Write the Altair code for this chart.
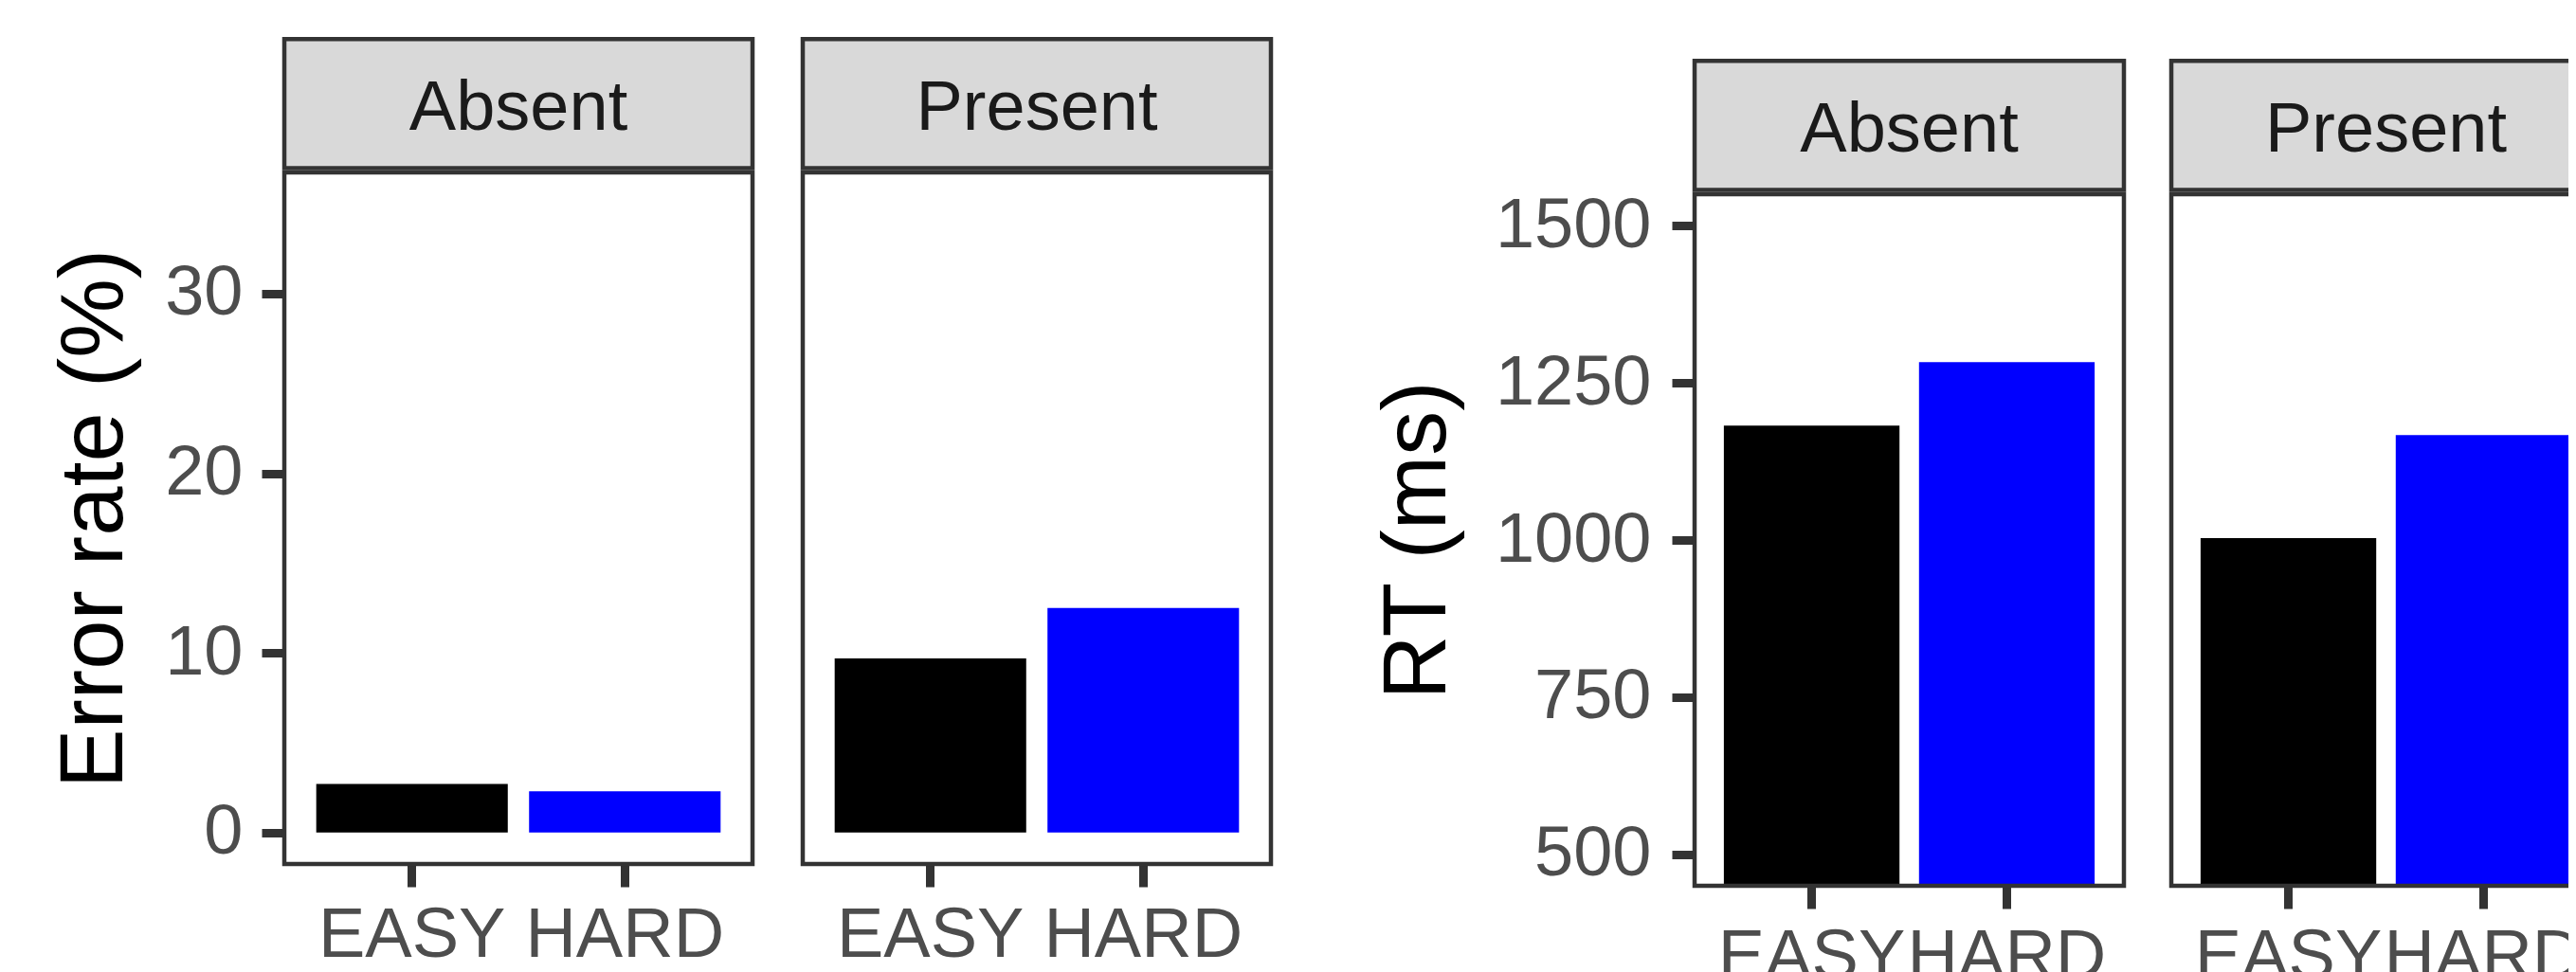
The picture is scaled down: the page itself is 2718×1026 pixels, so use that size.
import altair as alt
import pandas as pd

# ---- data ----
conditions = ["EASY", "HARD"]
panels = ["Absent", "Present"]
error_absent = [2.7, 2.3]
error_present = [9.7, 12.5]
rt_absent = [1182, 1283]
rt_present = [1003, 1167]
error_ticks = [0, 10, 20, 30]
rt_ticks = [500, 750, 1000, 1250, 1500]
error_domain = [-1.75, 36.75]
rt_domain = [450, 1550]

FONT = "Liberation Sans"
TICK_FS = 74
TITLE_FS = 94
STRIP_H = 143
BORDER = 4.5
COLORS = ["#000000", "#0000FF"]
GREY20 = "#333333"


def panel(values, label, width, height, domain, ticks, y_title=None,
          title_x=0, label_pad=20, offset=0):
    df = pd.DataFrame({"condition": conditions, "value": values})
    lab = pd.DataFrame({"panel": [label]})
    if y_title is not None:
        yaxis = alt.Axis(values=ticks, format="d", title=y_title, grid=False, domain=False,
                         tickSize=24, tickWidth=9, tickColor=GREY20,
                         labelFontSize=TICK_FS, labelColor="#4D4D4D",
                         labelPadding=label_pad, labelFont=FONT, labelLimit=0,
                         titleFont=FONT, titleFontSize=TITLE_FS,
                         titleFontWeight="normal", titleColor="#000000",
                         titleX=title_x, titleY=offset + height / 2,
                         titleBaseline="middle", titleLimit=0)
    else:
        yaxis = None
    bars = alt.Chart(df).mark_bar(clip=True).encode(
        x=alt.X("condition:N", sort=conditions,
                scale=alt.Scale(domain=conditions, paddingInner=0.1, paddingOuter=0.15),
                axis=alt.Axis(title=None, labelAngle=0, domain=False, grid=False,
                              tickSize=24, tickWidth=9, tickColor=GREY20,
                              labelFontSize=TICK_FS, labelColor="#4D4D4D",
                              labelPadding=15, labelFont=FONT, labelOverlap=False,
                              labelLimit=0)),
        y=alt.Y("value:Q",
                scale=alt.Scale(domain=domain, nice=False, zero=False,
                                range=[offset + height, offset]),
                axis=yaxis),
        color=alt.Color("condition:N", scale=alt.Scale(domain=conditions, range=COLORS), legend=None),
    )
    border = alt.Chart(lab).mark_rect(
        fillOpacity=0, stroke=GREY20, strokeWidth=BORDER, clip=False
    ).encode(x=alt.value(0), x2=alt.value(width),
             y=alt.value(offset), y2=alt.value(offset + height))
    strip_rect = alt.Chart(lab).mark_rect(
        fill="#D9D9D9", stroke=GREY20, strokeWidth=BORDER, clip=False
    ).encode(x=alt.value(0), x2=alt.value(width),
             y=alt.value(offset - (STRIP_H - BORDER / 2)), y2=alt.value(offset - BORDER))
    strip_text = alt.Chart(lab).mark_text(
        font=FONT, fontSize=TICK_FS, color="#1A1A1A", align="center", baseline="middle"
    ).encode(text="panel:N", x=alt.value(width / 2), y=alt.value(offset - 67))
    return alt.layer(bars, border, strip_rect, strip_text).properties(
        width=width, height=height + offset,
        view=alt.ViewBackground(strokeOpacity=0))


left = alt.hconcat(
    panel(error_absent, panels[0], 494, 730, error_domain, error_ticks,
          "Error rate (%)", -200, 20),
    panel(error_present, panels[1], 494, 730, error_domain, error_ticks),
    spacing=47,
)
right = alt.hconcat(
    panel(rt_absent, panels[0], 453, 730, rt_domain, rt_ticks,
          "RT (ms)", -292, 22, offset=23),
    panel(rt_present, panels[1], 453, 730, rt_domain, rt_ticks, offset=23),
    spacing=44,
)

chart = (
    alt.hconcat(left, right, spacing=105)
    .properties(
        autosize=alt.AutoSizeParams(type="none"),
        padding={"left": 292, "top": 174, "right": 2410, "bottom": 866},
    )
    .configure(font=FONT)
    .configure_view(strokeOpacity=0)
)

chart.save("out.html", embed_options={"renderer": "svg", "actions": False})
